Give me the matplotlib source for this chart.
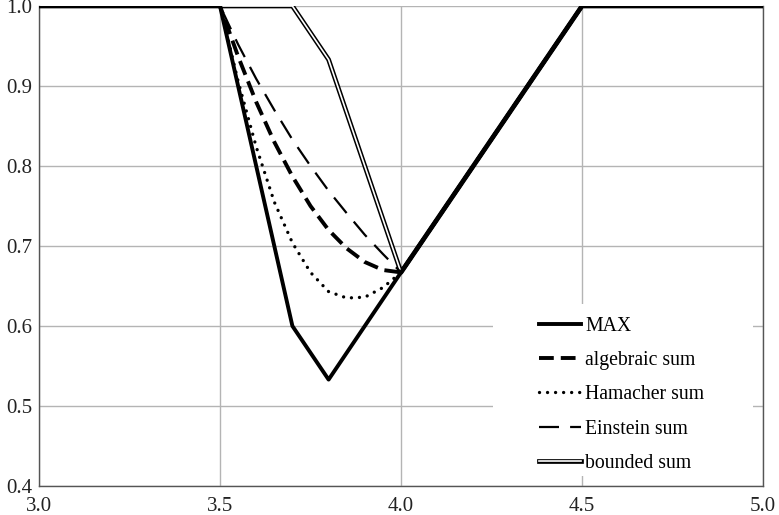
import matplotlib
matplotlib.use("Agg")
import matplotlib.pyplot as plt
import matplotlib.patheffects as pe
from matplotlib.patches import Rectangle

# ---------------------------------------------
# data
# ---------------------------------------------
x_corner = [3.0, 3.5, 3.6, 3.7, 3.8, 3.9, 4.0, 4.5, 5.0]
max_vals = [1.0, 1.0, 0.8, 0.6, 0.533, 0.6, 0.667, 1.0, 1.0]
bounded_vals = [1.0, 1.0, 1.0, 1.0, 0.933, 0.8, 0.667, 1.0, 1.0]

x_fine = [3.0, 3.5, 3.55, 3.6, 3.65, 3.7, 3.75, 3.8, 3.85, 3.9, 3.95, 4.0, 4.5, 5.0]
algebraic_vals = [1.0, 1.0, 0.937, 0.88, 0.83, 0.787, 0.75, 0.72, 0.697, 0.68, 0.67, 0.667, 1.0, 1.0]
hamacher_vals = [1.0, 1.0, 0.906, 0.824, 0.755, 0.704, 0.667, 0.643, 0.635, 0.636, 0.648, 0.667, 1.0, 1.0]
einstein_vals = [1.0, 1.0, 0.952, 0.909, 0.87, 0.833, 0.8, 0.769, 0.741, 0.714, 0.69, 0.667, 1.0, 1.0]

x_ticks = [3.0, 3.5, 4.0, 4.5, 5.0]
y_ticks = [0.4, 0.5, 0.6, 0.7, 0.8, 0.9, 1.0]

plt.rcParams['font.family'] = ['Liberation Serif', 'DejaVu Serif']

fig = plt.figure(figsize=(7.79, 5.15), dpi=100)
ax = fig.add_axes([39 / 779, (515 - 486) / 515, 724 / 779, 480 / 515])

ax.plot(x_corner, max_vals, color='black', lw=2.8, label='MAX', zorder=5)
ax.plot(x_fine, algebraic_vals, color='black', lw=2.8, linestyle=(0, (3.8, 1.8)),
        label='algebraic sum', zorder=4)
ax.plot(x_fine, hamacher_vals, color='black', lw=2.4, linestyle=(0, (0.01, 2.4)),
        dash_capstyle='round', label='Hamacher sum', zorder=4)
ax.plot(x_fine, einstein_vals, color='black', lw=1.6, linestyle=(0, (9, 5)),
        label='Einstein sum', zorder=4)
ax.plot(x_corner, bounded_vals, color='white', lw=1.2, label='bounded sum', zorder=3,
        path_effects=[pe.Stroke(linewidth=3.4, foreground='black'), pe.Normal()])

ax.set_xlim(3.0, 5.0)
ax.set_ylim(0.4, 1.0)
ax.set_xticks(x_ticks)
ax.set_yticks(y_ticks)
ax.set_xticklabels([f"{v:.1f}" for v in x_ticks])
ax.set_yticklabels([f"{v:.1f}" for v in y_ticks])
ax.tick_params(length=0, labelsize=15, colors='#222222')
ax.tick_params(axis='y', pad=5)
ax.tick_params(axis='x', pad=8)
ax.grid(True, color='#b4b4b4', lw=1.0)
ax.set_axisbelow(True)

for side in ['left', 'bottom', 'right']:
    ax.spines[side].set_color('#555555')
    ax.spines[side].set_linewidth(1.0)
ax.spines['top'].set_visible(False)

# white box behind the legend
ax.add_patch(Rectangle((0.627, 0.021), 0.359, 0.358, transform=ax.transAxes,
                       facecolor='white', edgecolor='none', zorder=2))

leg = ax.legend(loc='upper left', bbox_to_anchor=(0.69, 0.353), frameon=False,
                fontsize=14.2, handlelength=2.15, handletextpad=0.2,
                labelspacing=0.78, borderpad=0, borderaxespad=0)
leg.set_zorder(6)

fig.savefig("out.png", dpi=100)
